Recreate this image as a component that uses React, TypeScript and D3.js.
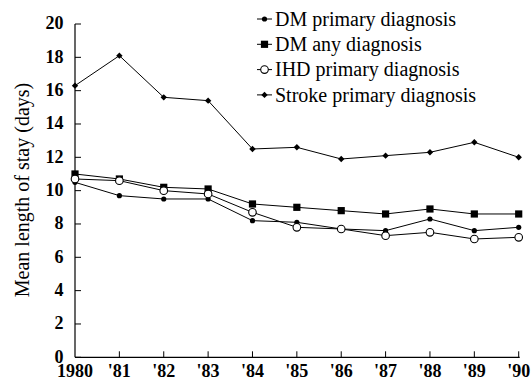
import React from "react";
import * as d3 from "d3";

const years = [1980, 1981, 1982, 1983, 1984, 1985, 1986, 1987, 1988, 1989, 1990];
const yearLabels = ["1980", "'81", "'82", "'83", "'84", "'85", "'86", "'87", "'88", "'89", "'90"];
const dmPrimary = [10.5, 9.7, 9.5, 9.5, 8.2, 8.1, 7.7, 7.6, 8.3, 7.6, 7.8];
const dmAny = [11.0, 10.7, 10.2, 10.1, 9.2, 9.0, 8.8, 8.6, 8.9, 8.6, 8.6];
const ihdPrimary = [10.7, 10.6, 10.0, 9.8, 8.7, 7.8, 7.7, 7.3, 7.5, 7.1, 7.2];
const strokePrimary = [16.3, 18.1, 15.6, 15.4, 12.5, 12.6, 11.9, 12.1, 12.3, 12.9, 12.0];
const yTicks = [0, 2, 4, 6, 8, 10, 12, 14, 16, 18, 20];

type Marker = "dot" | "square" | "circle" | "diamond";
const series: { name: string; values: number[]; marker: Marker }[] = [
  { name: "DM primary diagnosis", values: dmPrimary, marker: "dot" },
  { name: "DM any diagnosis", values: dmAny, marker: "square" },
  { name: "IHD primary diagnosis", values: ihdPrimary, marker: "circle" },
  { name: "Stroke primary diagnosis", values: strokePrimary, marker: "diamond" },
];

const W = 532;
const H = 380;
const left = 75;
const right = 518.7;
const top = 24;
const bottom = 357.3;

const x = d3.scaleLinear().domain([1980, 1990]).range([left, right]);
const y = d3.scaleLinear().domain([0, 20]).range([bottom, top]);

const textStyle = { fontFamily: "Liberation Serif, DejaVu Serif, serif" };

function MarkerShape({ kind, cx, cy }: { kind: Marker; cx: number; cy: number }) {
  if (kind === "dot") return <circle cx={cx} cy={cy} r={2.6} fill="#000" />;
  if (kind === "square")
    return <rect x={cx - 3.6} y={cy - 3.6} width={7.2} height={7.2} fill="#000" />;
  if (kind === "circle")
    return <circle cx={cx} cy={cy} r={3.8} fill="#fff" stroke="#000" strokeWidth={1.1} />;
  const s = 3.2;
  return (
    <path
      d={`M${cx},${cy - s}L${cx + s},${cy}L${cx},${cy + s}L${cx - s},${cy}Z`}
      fill="#000"
    />
  );
}

export default function App() {
  const line = d3
    .line<number>()
    .x((_, i) => x(years[i]))
    .y((v) => y(v));

  return (
    <svg
      width={W}
      height={H}
      style={{ position: "absolute", left: 0, top: 0, background: "#fff" }}
    >
      {/* axes */}
      <line x1={left} x2={left} y1={top} y2={bottom} stroke="#000" strokeWidth={1.2} />
      <line x1={left} x2={right + 1} y1={bottom} y2={bottom} stroke="#000" strokeWidth={1.2} />
      {yTicks.map((t) => (
        <g key={t}>
          <line x1={left} x2={left + 6} y1={y(t)} y2={y(t)} stroke="#000" strokeWidth={1} />
          <text
            x={left - 11.5}
            y={y(t)}
            dy="0.3em"
            textAnchor="end"
            style={textStyle}
            fontWeight="bold"
            fontSize={18}
          >
            {t}
          </text>
        </g>
      ))}
      {years.map((yr, i) => (
        <g key={yr}>
          {i > 0 && (
            <line x1={x(yr)} x2={x(yr)} y1={bottom} y2={bottom - 6} stroke="#000" strokeWidth={1} />
          )}
          <text
            x={x(yr)}
            y={377}
            textAnchor="middle"
            style={textStyle}
            fontWeight="bold"
            fontSize={18}
          >
            {yearLabels[i]}
          </text>
        </g>
      ))}
      <text
        transform={`translate(29,190) rotate(-90)`}
        textAnchor="middle"
        style={textStyle}
        fontSize={20}
      >
        Mean length of stay (days)
      </text>

      {/* series */}
      {series.map((s) => (
        <g key={s.name}>
          <path d={line(s.values) || ""} fill="none" stroke="#000" strokeWidth={1} />
          {s.values.map((v, i) => (
            <MarkerShape key={i} kind={s.marker} cx={x(years[i])} cy={y(v)} />
          ))}
        </g>
      ))}

      {/* legend */}
      {series.map((s, i) => {
        const ly = 19 + i * 25.3;
        return (
          <g key={s.name}>
            <line x1={257} x2={272} y1={ly} y2={ly} stroke="#000" strokeWidth={1} />
            <MarkerShape kind={s.marker} cx={264.5} cy={ly} />
            <text x={275} y={ly} dy="0.33em" style={textStyle} fontSize={20}>
              {s.name}
            </text>
          </g>
        );
      })}
    </svg>
  );
}
